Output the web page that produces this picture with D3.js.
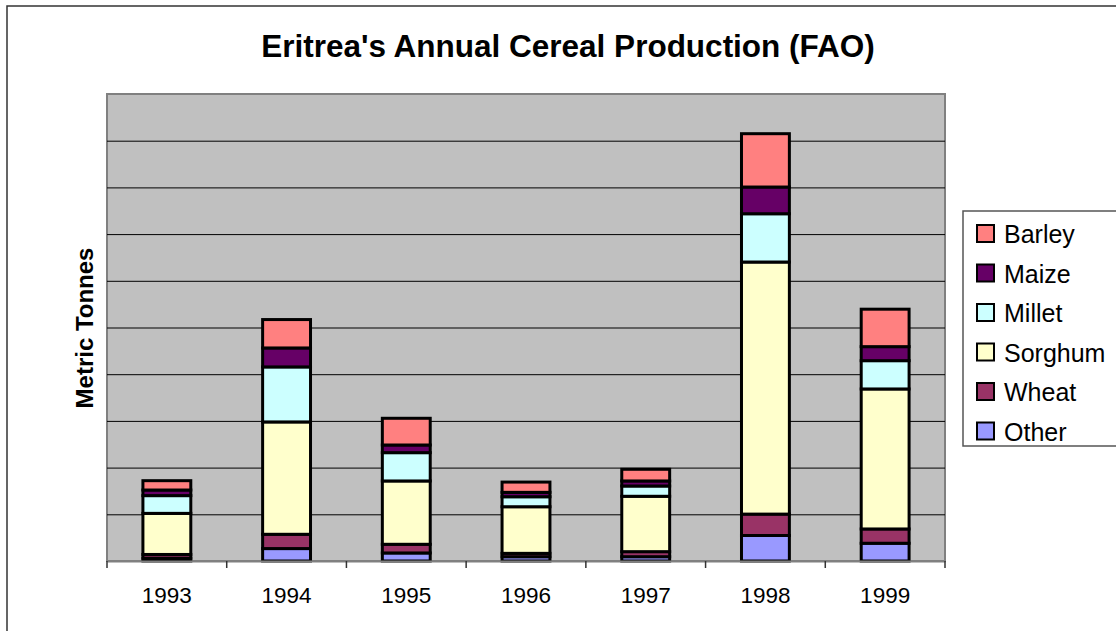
<!DOCTYPE html>
<html>
<head>
<meta charset="utf-8">
<script src="https://cdn.jsdelivr.net/npm/d3@7"></script>
<style>
	body { margin: 0; background: #fff; }
	svg { display: block; font-family: Arial, 'Liberation Sans', sans-serif; }
</style>
</head>
<body>
<svg width="1116" height="631"></svg>
<script>
const years = ['1993', '1994', '1995', '1996', '1997', '1998', '1999']

// metric tonnes
const other   = [3000, 13300, 8600, 4600, 4600, 27300, 19000]
const wheat   = [4000, 15300, 9300, 3600, 5400, 22900, 15300]
const sorghum = [44000, 120300, 67800, 49900, 59300, 269900, 149900]
const millet  = [19000, 58900, 30300, 10700, 11000, 51700, 30300]
const maize   = [6000, 20300, 8200, 4700, 5400, 28600, 15000]
const barley  = [10000, 30400, 28600, 11000, 12500, 57100, 40100]

const seriesNames = ['Other', 'Wheat', 'Sorghum', 'Millet', 'Maize', 'Barley']
const seriesColors = ['#9999ff', '#993366', '#ffffcc', '#ccffff', '#660066', '#ff8080']
const yTicks = d3.range(0, 500001, 50000)

let svg = d3.select('svg')

let rows = years.map((y, i) => ({
	year: y,
	Other: other[i],
	Wheat: wheat[i],
	Sorghum: sorghum[i],
	Millet: millet[i],
	Maize: maize[i],
	Barley: barley[i]
}))

let stacked = d3.stack().keys(seriesNames)(rows)

let plot = {left: 107, right: 945, top: 94, bottom: 561}

let scX = d3.scaleBand()
	.domain(years)
	.range([plot.left, plot.right])
	.paddingInner(0.6)
	.paddingOuter(0.3)

let scY = d3.scaleLinear()
	.domain([0, 500000])
	.range([plot.bottom, plot.top])

let color = d3.scaleOrdinal().domain(seriesNames).range(seriesColors)

// outer chart frame (runs off the right/bottom of the picture)
svg.append('rect')
	.attr('x', 7).attr('y', 6)
	.attr('width', 1130).attr('height', 650)
	.attr('fill', '#fff')
	.attr('stroke', '#333').attr('stroke-width', 1.5)

svg.append('text')
	.attr('x', 568).attr('y', 57)
	.attr('text-anchor', 'middle')
	.attr('font-size', 31.5).attr('font-weight', 'bold')
	.text("Eritrea's Annual Cereal Production (FAO)")

// plot area
svg.append('rect')
	.attr('x', plot.left).attr('y', plot.top)
	.attr('width', plot.right - plot.left).attr('height', plot.bottom - plot.top)
	.attr('fill', '#c0c0c0')
	.attr('stroke', '#808080').attr('stroke-width', 2)

let grid = svg.append('g')
	.attr('transform', `translate(${plot.left},0)`)
	.call(d3.axisLeft(scY).tickValues(yTicks.slice(1, -1)).tickSize(-(plot.right - plot.left)).tickFormat(''))
grid.select('.domain').remove()
grid.selectAll('line').attr('stroke', '#000').attr('stroke-width', 1)

// bars
svg.append('g')
	.selectAll('g')
	.data(stacked).enter()
	.append('g')
	.attr('fill', d => color(d.key))
	.selectAll('rect')
	.data(d => d).enter()
	.append('rect')
	.attr('x', d => scX(d.data.year))
	.attr('width', scX.bandwidth())
	.attr('y', d => scY(d[1]))
	.attr('height', d => scY(d[0]) - scY(d[1]))
	.attr('stroke', '#000')
	.attr('stroke-width', 3)

// x axis: ticks sit between the categories
let xAxis = svg.append('g')
	.attr('transform', `translate(0,${plot.bottom})`)
	.call(d3.axisBottom(scX).tickSize(0).tickPadding(26))
xAxis.select('.domain').attr('stroke', '#808080').attr('stroke-width', 2)
xAxis.selectAll('text')
	.attr('font-size', 22.5).attr('fill', '#000')
	.attr('font-family', "Arial, 'Liberation Sans', sans-serif")

let step = scX.step()
xAxis.selectAll('.sep')
	.data(d3.range(years.length + 1)).enter()
	.append('line')
	.attr('x1', i => plot.left + i * step)
	.attr('x2', i => plot.left + i * step)
	.attr('y1', 0).attr('y2', 7)
	.attr('stroke', '#333').attr('stroke-width', 1.5)

svg.append('text')
	.attr('transform', 'translate(93,328) rotate(-90)')
	.attr('text-anchor', 'middle')
	.attr('font-size', 24).attr('font-weight', 'bold')
	.text('Metric Tonnes')

// legend, top entry is the top of the stack
let legend = svg.append('g')

legend.append('rect')
	.attr('x', 963).attr('y', 211)
	.attr('width', 200).attr('height', 235)
	.attr('fill', '#fff')
	.attr('stroke', '#555').attr('stroke-width', 1.5)

let items = legend.selectAll('g.item')
	.data(seriesNames.slice().reverse()).enter()
	.append('g')
	.attr('transform', (d, i) => `translate(977,${233 + i * 39.5})`)

items.append('rect')
	.attr('x', 0).attr('y', -8)
	.attr('width', 17).attr('height', 17)
	.attr('fill', d => color(d))
	.attr('stroke', '#000').attr('stroke-width', 2)

items.append('text')
	.attr('x', 27).attr('y', 10)
	.attr('font-size', 25)
	.text(d => d)
</script>
</body>
</html>
